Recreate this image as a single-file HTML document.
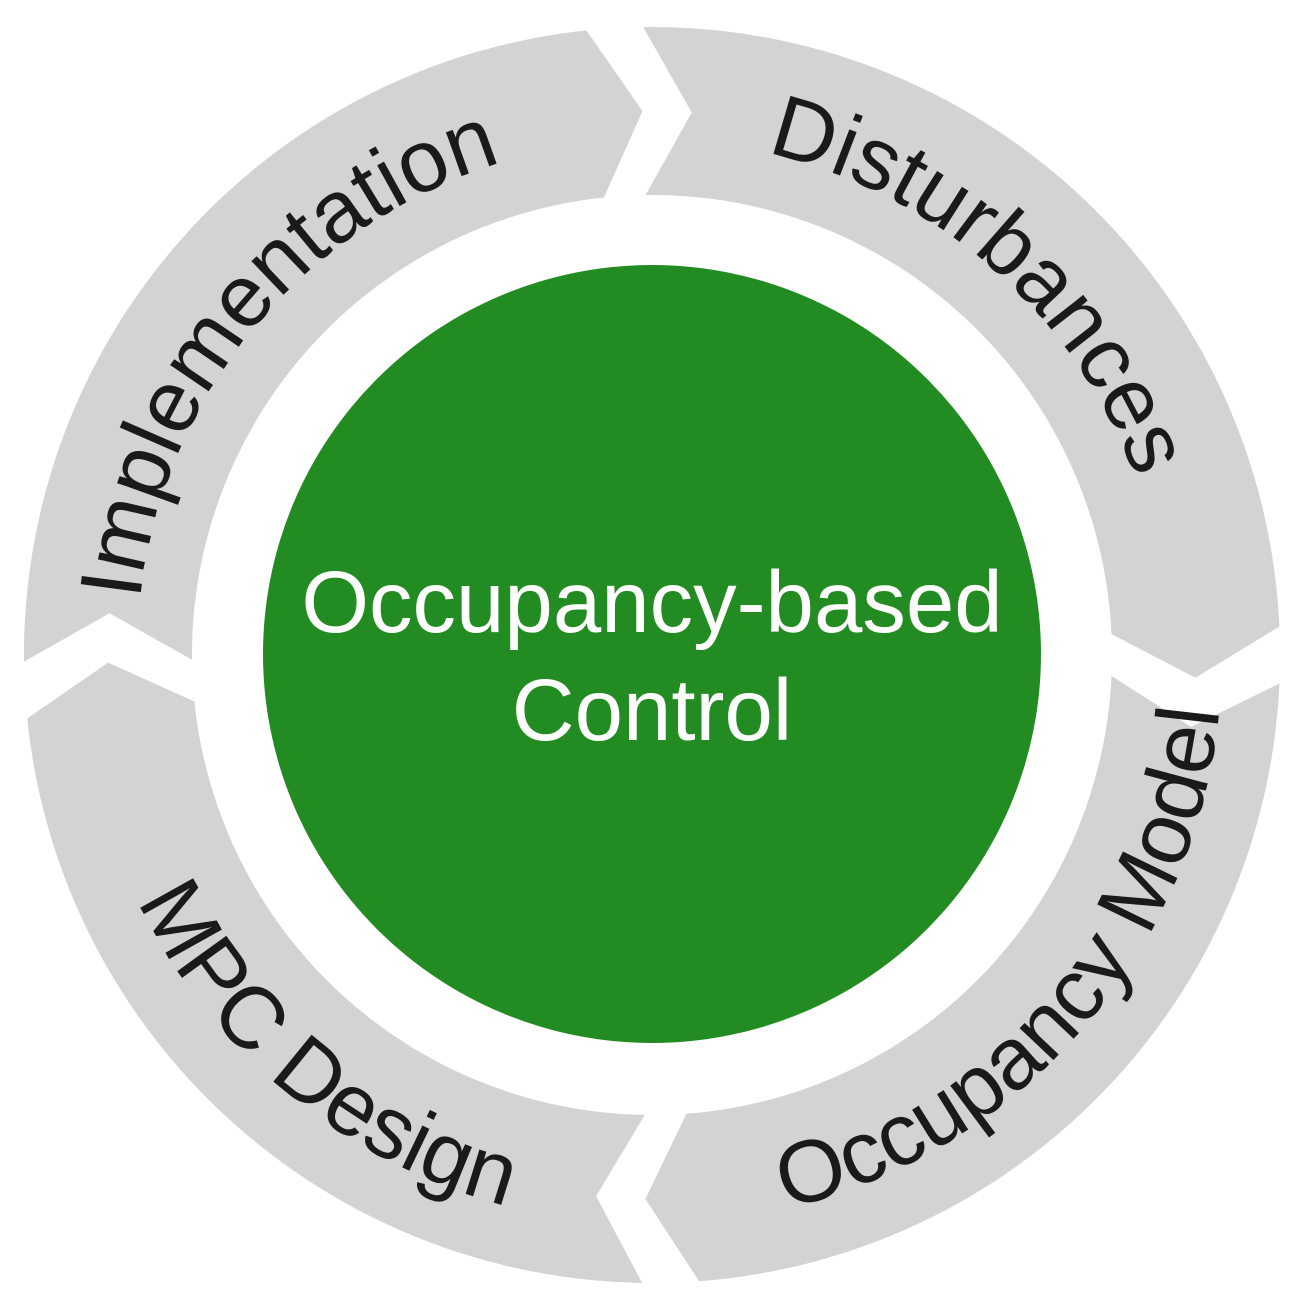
<!DOCTYPE html>
<html><head><meta charset="utf-8"><style>
html,body{margin:0;padding:0;background:#fff;width:1301px;height:1304px;overflow:hidden}
svg{display:block}
.t{font-family:"Liberation Sans",sans-serif;font-size:88px;fill:#1a1a1a}
.c{font-family:"Liberation Sans",sans-serif;font-size:87px;fill:#fff;text-anchor:middle}
</style></head><body>
<svg id="s" width="1301" height="1304" viewBox="0 0 1301 1304" xmlns="http://www.w3.org/2000/svg">
<defs>
<path id="pImp" d="M137,655 A515,515 0 0,1 652,140"/>
<path id="pDis" d="M652,140 A515,515 0 0,1 1167,655"/>
<path id="pMpc" d="M82,655 A570,570 0 0,0 652,1225"/>
<path id="pOcc" d="M652,1225 A570,570 0 0,0 1222,655"/>
</defs>
<g id="segs" fill="#d3d3d3"></g>
<circle cx="652" cy="654" r="389" fill="#228b22"/>
<text class="c" x="652" y="632">Occupancy-based</text>
<text class="c" x="652" y="740">Control</text>
<text class="t"><textPath href="#pImp" startOffset="44%" text-anchor="middle">Implementation</textPath></text>
<text class="t"><textPath href="#pDis" startOffset="46%" text-anchor="middle">Disturbances</textPath></text>
<text class="t"><textPath href="#pMpc" startOffset="56%" text-anchor="middle">MPC Design</textPath></text>
<text class="t"><textPath href="#pOcc" startOffset="54.5%" text-anchor="middle">Occupancy Model</textPath></text>
</svg>
<script>
(function(){
var cx=652,cy=655,Ro=628,Ri=460,Rm=544,g=2.6,d=5;
var b=[-93.4,0,88.3,176.8];
function p(r,a){a=a*Math.PI/180;return (cx+r*Math.cos(a)).toFixed(1)+","+(cy+r*Math.sin(a)).toFixed(1);}
var G=document.getElementById("segs"),h="";
for(var i=0;i<4;i++){
var a0=b[i]+g, a1=(i<3?b[i+1]:b[0]+360)-g;
var s="M"+p(Ro,a0)+" A"+Ro+","+Ro+" 0 0,1 "+p(Ro,a1)+" L"+p(Rm,a1+d)+" L"+p(Ri,a1)+
" A"+Ri+","+Ri+" 0 0,0 "+p(Ri,a0)+" L"+p(Rm,a0+d)+" Z";
h+='<path d="'+s+'"/>';
}
G.innerHTML=h;
})();
</script>
</body></html>
